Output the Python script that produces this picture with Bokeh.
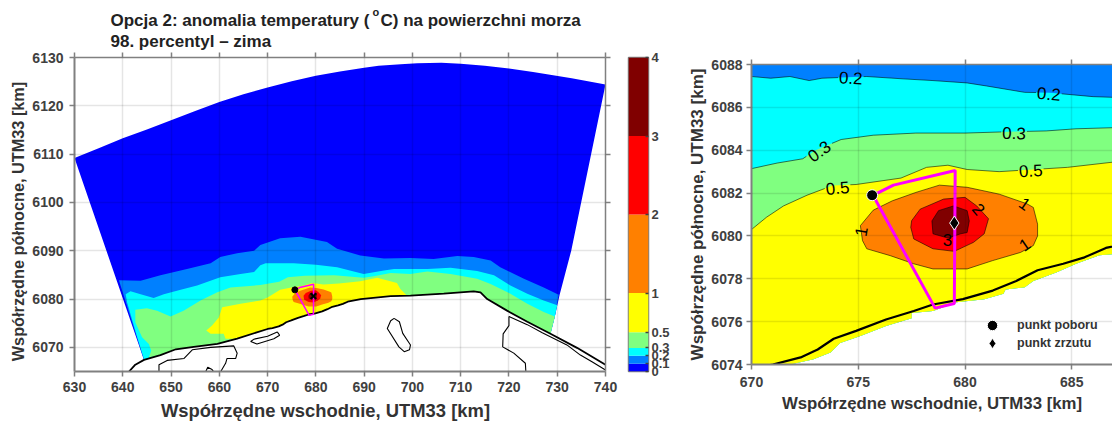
from bokeh.plotting import figure
from bokeh.layouts import row, column
from bokeh.models import ColumnDataSource, FixedTicker, Label, Legend, LegendItem, LinearAxis, Range1d
from bokeh.core.properties import value
from bokeh.embed import file_html
from bokeh.resources import INLINE
import numpy as np

FONT = "Liberation Sans"

# colour scale
levels = [0, 0.1, 0.2, 0.3, 0.5, 1, 2, 3, 4]
level_labels = ["0", "0.1", "0.2", "0.3", "0.5", "1", "2", "3", "4"]
colors = ["#0000ff", "#0080ff", "#00ffff", "#80ff80", "#ffff00", "#ff8000", "#ff0000", "#800000"]

# model domain: offshore arc, then the eastern edge
domain_x = [630, 635, 640, 645, 650, 655, 660, 665, 670, 675, 680, 685, 690, 693, 697.6, 701, 706, 710, 715, 720, 725, 733, 740,
            732.9, 730.5, 729.5, 728.6]
domain_y = [6109.2, 6111.2, 6113.3, 6115.1, 6117, 6118.9, 6120.8, 6122.4, 6123.8, 6125.1, 6126.2, 6127.1, 6127.9, 6128.3,
            6128.6, 6128.8, 6128.9, 6128.7, 6128.3, 6127.7, 6127, 6125.7, 6124.4, 6090, 6080.9, 6076.4, 6072.8]

# coastline
coast_x = [641.3, 642.6, 644.4, 647.8, 651, 654.7, 659.6, 663.7, 670, 671, 672.3, 673.1, 673.85, 674.9, 676.3, 677.6,
           678.5, 679.9, 681.3, 682.4, 683.4, 684.6, 685.6, 686.6, 689.3, 695.5, 699.6, 706.5, 712.7, 714.1, 715.5,
           719.6, 723.8, 728.6, 734.1, 740]
coast_y = [6065, 6066.4, 6067.4, 6068.4, 6069.6, 6070.1, 6070.7, 6071.8, 6073.8, 6074, 6074.33, 6074.7, 6075.2, 6075.57,
           6076.1, 6076.5, 6076.8, 6077.05, 6077.45, 6077.9, 6078.4, 6078.7, 6079, 6079.44, 6080, 6080.6, 6080.7,
           6081.1, 6081.6, 6081.4, 6080, 6077.6, 6075.3, 6072.8, 6069.9, 6066.4]

# inland water outlines
lagoon_a_x = [720, 723.8, 726.9, 732, 734.8, 737.2, 740]
lagoon_a_y = [6076.4, 6074.7, 6073, 6070.5, 6068.4, 6067, 6065.3]
lagoon_b_x = [720, 720, 718.8, 718.7, 721, 723.4, 723.5]
lagoon_b_y = [6076.4, 6074.5, 6072.8, 6070.1, 6068.8, 6066.7, 6065]
lake_a_x = [696.2, 697.3, 698, 699.6, 699.4, 698.3, 697.2, 694.8, 695.5, 696.2]
lake_a_y = [6076, 6075.3, 6072.9, 6070.5, 6069.5, 6069.1, 6070.1, 6073.9, 6075.5, 6076]
lake_b_x = [672, 672.5, 671.3, 667.8, 666.5, 667.2, 670, 672]
lake_b_y = [6073.2, 6072.5, 6071.8, 6070.7, 6071.2, 6071.7, 6072.3, 6073.2]
lake_c_x = [647.5, 647.5, 649.2, 652.7, 654.4, 658.2, 663, 663.7, 663.4, 661.6, 661.3, 660.3]
lake_c_y = [6065, 6066.4, 6067.3, 6067.7, 6069.5, 6070, 6070.3, 6068.8, 6067.7, 6067.7, 6066.7, 6065]
lake_d_x = [657.2, 657.6, 658.5, 658.8]
lake_d_y = [6065, 6065.9, 6065.4, 6065]

# overview contours
wide01_x = [639.2, 643.7, 647.8, 653.3, 658.2, 660.2, 663.7, 667.2, 668.5, 672.6, 676.8, 682.3, 684.4, 689.2, 694.1,
            699.6, 704.4, 709.3, 712.7, 716.2, 718.2, 723.1, 727.2, 730.3, 729.5, 728.6]
wide01_y = [6083.9, 6083.8, 6084.9, 6086.2, 6087.4, 6088.7, 6089.5, 6090, 6091.2, 6092.6, 6092.9, 6091.8, 6090.4, 6089,
            6088.4, 6088.5, 6088.3, 6088.9, 6088.7, 6088, 6086.6, 6084.2, 6082.4, 6080.9, 6076.4, 6072.8]
wide02_x = [644.4, 643, 640.9, 640.6, 641.6, 643.7, 646.4, 648.5, 652, 655.4, 660.2, 664.4, 667.2, 668.5, 669.6, 675.4,
            680, 684.4, 689.9, 694.1, 696.2, 699.6, 703.1, 707.9, 713.4, 716.9, 720.3, 723.8, 727.2, 730, 729.5, 728.6]
wide02_y = [6067.6, 6072.1, 6079.3, 6081, 6081.6, 6081, 6080.2, 6081, 6081.9, 6082.8, 6084.5, 6085.2, 6085.6, 6087,
            6087.4, 6087.4, 6087.1, 6086.6, 6085.2, 6085.9, 6086.2, 6086.2, 6086.2, 6086.5, 6085.8, 6084.9, 6082.8,
            6081.1, 6079.7, 6078.7, 6076.4, 6072.8]
wide03_x = [645.4, 645.9, 645.4, 644, 642.6, 642.6, 645, 647.1, 649.9, 652.6, 656.1, 659.6, 662.3, 668.5, 670, 672.4,
            674.2, 677.7, 683.8, 689.9, 692, 695.5, 699.6, 703.1, 707.9, 713.4, 716.2, 720.3, 723.8, 727.2, 729.5, 728.6]
wide03_y = [6067.9, 6069.3, 6070.7, 6072.1, 6075.2, 6077.8, 6078.1, 6077.6, 6076.4, 6077.6, 6079.7, 6081.4, 6082.4,
            6082.9, 6083.14, 6083.6, 6084.5, 6084.8, 6084.9, 6084.4, 6084.7, 6085.4, 6085.2, 6085.7, 6085.2, 6084.2,
            6083.1, 6081.1, 6079, 6077.3, 6076.4, 6072.8]
wide05_x = [661.3, 660.9, 658.2, 657.3, 658.5, 659.9, 660.6, 664.4, 668.5, 670, 672.6, 674.9, 677, 679.2, 681.6, 684.8,
            689.2, 692.7, 696.8, 697.5, 698.9]
wide05_y = [6071.8, 6072.8, 6072.8, 6073.5, 6074.5, 6076.2, 6078.3, 6079, 6079.7, 6080.3, 6081.9, 6082.4, 6082.7, 6083.3,
            6083, 6083.2, 6083.7, 6084.4, 6083.3, 6082.1, 6080.7]

# detail contours
c02_x = [670, 670.9, 671.8, 672.7, 673.3, 675.4, 677.1, 678.5, 680.1, 681, 682.8, 684, 686, 686.9]
c02_y = [6087.44, 6087.36, 6087.44, 6087.25, 6087.36, 6087.44, 6087.33, 6087.25, 6087.14, 6087, 6086.7, 6086.68, 6086.5, 6086.47]
c03_x = [670, 671.2, 672.4, 673, 674.2, 675.7, 677.7, 680, 681.6, 683.8, 685.2, 686.9]
c03_y = [6083.14, 6083.4, 6083.6, 6084, 6084.5, 6084.7, 6084.8, 6084.8, 6084.85, 6084.9, 6085, 6085.05]
c05_x = [670, 670.7, 671.5, 672.6, 673.8, 674.9, 677, 678.2, 679.2, 680.1, 681.6, 683.2, 684.8, 686.9]
c05_y = [6080.3, 6080.87, 6081.4, 6081.9, 6082.35, 6082.4, 6082.7, 6083.2, 6083.3, 6083.1, 6083, 6083.1, 6083.2, 6083.44]
c1_x = [675.1, 675.7, 676.6, 677.7, 678.8, 680.1, 681.6, 682.9, 683.2, 683.4, 683.4, 683.2, 682.6, 681.3, 680.1, 678.5,
        677.6, 676.5, 675.4, 675.2, 675.1]
c1_y = [6080.48, 6081.2, 6081.64, 6082.03, 6082.37, 6082.27, 6081.95, 6081.5, 6081.33, 6080.55, 6080, 6079.55, 6079.23,
        6078.85, 6078.46, 6078.46, 6078.7, 6079.08, 6079.4, 6079.78, 6080.48]
c2_x = [677.5, 677.9, 679, 680, 680.55, 681.1, 680.9, 680.4, 679.5, 678.5, 677.6, 677.46, 677.5]
c2_y = [6080.71, 6081.25, 6081.72, 6081.8, 6081.4, 6080.8, 6080.1, 6079.7, 6079.28, 6079.4, 6079.86, 6080.4, 6080.71]
c3_x = [678.45, 678.76, 679.46, 680.1, 680.2, 680.1, 679.8, 679.2, 678.5, 678.45]
c3_y = [6080.7, 6081.18, 6081.4, 6081.18, 6080.7, 6080.16, 6080.1, 6079.9, 6080.1, 6080.7]
south_x = [670, 671.8, 672.9, 673.7, 674.15, 675.1, 676.3, 677.5, 677.5, 678.5, 679.6, 680.9, 681.8, 681.9, 682.8, 683.2,
           684.3, 685.2, 686.3, 686.9]
south_y = [6074, 6074, 6074.25, 6074.56, 6075, 6075.33, 6075.8, 6076.16, 6076.4, 6076.5, 6076.9, 6077.05, 6077.3, 6077.5,
           6077.6, 6077.9, 6078.3, 6078.7, 6079.1, 6079.15]

# contour labels
label_text = ["0.2", "0.2", "0.3", "0.3", "0.5", "0.5", "1", "1", "1", "2", "3"]
label_x = [674.65, 683.93, 673.17, 682.3, 674.03, 683.08, 675.14, 682.8, 682.8, 680.64, 679.18]
label_y = [6087.38, 6086.63, 6083.95, 6084.8, 6082.24, 6083.05, 6080.2, 6081.5, 6079.6, 6081.25, 6079.8]
label_deg = [-3, -5, 35, -2, 5, 3, 80, -35, 35, -50, 0]

# discharge pipeline and points
pipe_x = [675.8, 676.65, 679.54, 679.5, 678.6, 675.8]
pipe_y = [6081.95, 6082.37, 6083.05, 6076.85, 6076.63, 6081.7]
intake_x, intake_y = [675.65], [6081.9]
outlet_x, outlet_y = [679.5], [6080.6]

xticks_a = list(range(630, 741, 10))
yticks_a = list(range(6070, 6131, 10))
xticks_b = [670, 675, 680, 685]
yticks_b = list(range(6074, 6089, 2))

INK = "#333333"
AX = "#808080"
HEAD = 50


def style_axis(ax, ticks, size):
    ax.ticker = FixedTicker(ticks=ticks)
    ax.axis_line_color = AX
    ax.axis_line_width = 2
    ax.major_tick_line_color = AX
    ax.major_tick_line_width = 1.5
    ax.major_tick_in = 0
    ax.major_tick_out = 5
    ax.minor_tick_line_color = None
    ax.major_label_standoff = 5
    ax.axis_label_standoff = 2
    ax.major_label_text_font = FONT
    ax.major_label_text_font_style = "bold"
    ax.major_label_text_font_size = size
    ax.major_label_text_color = "#404040"
    ax.axis_label_text_font = FONT
    ax.axis_label_text_font_style = "bold"
    ax.axis_label_text_color = INK


def blank_axis(p, side, ticks):
    a = LinearAxis()
    style_axis(a, ticks, "14px")
    a.major_label_overrides = {t: "" for t in ticks}
    a.major_label_standoff = 0
    a.axis_line_width = 1.5
    p.add_layout(a, side)


def style_grid(p, xt, yt):
    for g, t in ((p.xgrid[0], xt), (p.ygrid[0], yt)):
        g.ticker = FixedTicker(ticks=t)
        g.grid_line_color = "#000000"
        g.grid_line_alpha = 0.1
        g.grid_line_width = 1.5
        g.level = "overlay"


def on_coast(xs, ys):
    """Close a contour, given from west to east, along the sea's coast back to its start."""
    lo = max(xs[0], 644.4)
    hi = xs[-1]
    seg = [(x, y) for x, y in zip(coast_x, coast_y) if lo <= x < hi][::-1]
    return list(xs) + [s[0] for s in seg], list(ys) + [s[1] for s in seg]


def gapped(xs, ys, centres, half=0.6):
    xo, yo = [], []
    xa = np.array(xs)
    ya = np.array(ys)
    cuts = [(c - half, c + half) for c in centres]
    for x, y in zip(xs, ys):
        if not any(a < x < b for a, b in cuts):
            xo.append(x)
            yo.append(y)
    for a, b in cuts:
        xo += [a, b, (a + b) / 2]
        yo += [float(np.interp(a, xa, ya)), float(np.interp(b, xa, ya)), float("nan")]
    order = np.argsort(xo, kind="stable")
    return [xo[i] for i in order], [yo[i] for i in order]


# ---------- heading strip ----------
head = figure(width=620, height=HEAD, output_backend="svg", toolbar_location=None, frame_align=False,
              x_range=Range1d(0, 620), y_range=Range1d(HEAD, 0), x_axis_type=None, y_axis_type=None,
              min_border=0)
head.outline_line_color = None
head.grid.visible = False
head_text = ["Opcja 2: anomalia temperatury  (", "o", "C) na powierzchni morza", "98. percentyl – zima"]
head.text([110, 372, 380, 110], [19.5, 11.5, 19.5, 41], text=head_text, text_font=value(FONT), text_font_style="bold",
          text_font_size=["17px", "11px", "17px", "17px"], text_color="#222222", text_baseline="alphabetic")

# ---------- left panel ----------
p1 = figure(width=620, height=423 - HEAD, output_backend="svg", toolbar_location=None, frame_align=False,
            x_range=Range1d(630, 740), y_range=Range1d(6065, 6130),
            min_border_left=74, min_border_right=15, min_border_top=57 - HEAD, min_border_bottom=52)
p1.outline_line_color = None
style_axis(p1.xaxis[0], xticks_a, "14px")
style_axis(p1.yaxis[0], yticks_a, "14px")
p1.yaxis[0].major_label_standoff = 6
blank_axis(p1, "above", xticks_a)
blank_axis(p1, "right", yticks_a)
style_grid(p1, xticks_a, yticks_a)

sx, sy = on_coast(domain_x, domain_y)
p1.patch(sx, sy, fill_color=colors[0], line_color=None)
for (xs, ys), col in zip(((wide01_x, wide01_y), (wide02_x, wide02_y), (wide03_x, wide03_y), (wide05_x, wide05_y)), colors[1:5]):
    px, py = on_coast(xs, ys)
    p1.patch(px, py, fill_color=col, line_color=None)
for (xs, ys), col in zip(((c1_x, c1_y), (c2_x, c2_y), (c3_x, c3_y)), colors[5:8]):
    p1.patch(xs, ys, fill_color=col, line_color=None)
p1.line(coast_x, coast_y, line_color="black", line_width=1.8)
for xs, ys in ((lagoon_a_x, lagoon_a_y), (lagoon_b_x, lagoon_b_y), (lake_a_x, lake_a_y), (lake_b_x, lake_b_y),
               (lake_c_x, lake_c_y), (lake_d_x, lake_d_y)):
    p1.line(xs, ys, line_color="black", line_width=1.1)
p1.patch(pipe_x, pipe_y, fill_color=None, line_color="#ff00ff", line_width=1.5)
p1.scatter(intake_x, intake_y, marker="circle", size=6, fill_color="black", line_color="black")
p1.scatter(outlet_x, outlet_y, marker="x", size=8, line_color="black", line_width=2)
p1.add_layout(Label(x=251, y=-5, x_units="screen", y_units="screen", text="Współrzędne wschodnie, UTM33 [km]",
                    text_font=FONT, text_font_style="bold", text_font_size="18.4px", text_color=INK,
                    text_align="center", text_baseline="bottom"), "below")
p1.add_layout(Label(x=6, y=150, x_units="screen", y_units="screen", text="Współrzędne północne, UTM33 [km]",
                    text_font=FONT, text_font_style="bold", text_font_size="16.3px", text_color=INK,
                    text_align="center", text_baseline="middle", angle=90, angle_units="deg"), "left")

# ---------- colour bar ----------
cb = figure(width=52, height=423 - HEAD, output_backend="svg", toolbar_location=None, frame_align=False,
            x_range=Range1d(0, 1), y_range=Range1d(0, 4), y_axis_location="right",
            min_border_left=8, min_border_right=22, min_border_top=57 - HEAD, min_border_bottom=52)
cb.outline_line_color = AX
cb.outline_line_width = 1.5
cb.xaxis.visible = False
cb.xgrid.visible = False
cb.ygrid.visible = False
cb.quad(left=0, right=1, bottom=levels[:-1], top=levels[1:], fill_color=colors, line_color=None)
a = cb.yaxis[0]
style_axis(a, levels, "13px")
a.axis_line_color = None
a.major_tick_in = 3
a.major_tick_out = 0
a.major_tick_line_color = "#404040"
a.major_label_standoff = 3
a.major_label_overrides = {lv: t for lv, t in zip(levels, level_labels)}

# ---------- right panel ----------
p2 = figure(width=440, height=423 - HEAD, output_backend="svg", toolbar_location=None, frame_align=False,
            x_range=Range1d(670, 670 + 361 / 21.35), y_range=Range1d(6074, 6088),
            min_border_left=79, min_border_right=0, min_border_top=64 - HEAD, min_border_bottom=59)
p2.outline_line_color = None
style_axis(p2.xaxis[0], xticks_b, "14px")
style_axis(p2.yaxis[0], yticks_b, "14px")
p2.xaxis[0].axis_label = "Współrzędne wschodnie, UTM33 [km]"
p2.yaxis[0].axis_label = "Współrzędne północne, UTM33 [km]"
p2.xaxis[0].axis_label_text_font_size = "16.8px"
p2.yaxis[0].axis_label_text_font_size = "17px"
p2.xaxis[0].major_label_standoff = 7
p2.xaxis[0].axis_label_standoff = 4
p2.yaxis[0].major_label_standoff = 4
p2.yaxis[0].axis_label_standoff = 1
blank_axis(p2, "above", xticks_b)
style_grid(p2, xticks_b, yticks_b)

rx, ry = south_x[::-1], south_y[::-1]
p2.patch([670, 686.9] + rx, [6088, 6088] + ry, fill_color=colors[1], line_color=None)
p2.patch(c02_x + rx, c02_y + ry, fill_color=colors[2], line_color=None)
p2.patch(c03_x + rx, c03_y + ry, fill_color=colors[3], line_color=None)
p2.patch(c05_x + rx, c05_y + ry, fill_color=colors[4], line_color=None)
for (xs, ys), col in zip(((c1_x, c1_y), (c2_x, c2_y), (c3_x, c3_y)), colors[5:8]):
    p2.patch(xs, ys, fill_color=col, line_color="black", line_width=0.7, line_alpha=0.8)
for xs, ys, centres in ((c02_x, c02_y, [674.65, 683.93]), (c03_x, c03_y, [673.17, 682.3]), (c05_x, c05_y, [674.03, 683.08])):
    gx, gy = gapped(xs, ys, centres)
    p2.line(gx, gy, line_color="black", line_width=0.7, line_alpha=0.8)

p2.line(coast_x, coast_y, line_color="black", line_width=2.2)
p2.patch(pipe_x, pipe_y, fill_color=None, line_color="#ff00ff", line_width=3)
r_a = p2.scatter(intake_x, intake_y, marker="circle", size=11, fill_color="black", line_color="white", line_width=1)
r_b = p2.scatter(outlet_x, outlet_y, marker="diamond", size=14, fill_color="black", line_color="white", line_width=1)

lab = ColumnDataSource(dict(x=label_x, y=label_y, t=label_text, a=label_deg))
p2.text("x", "y", text="t", angle="a", angle_units="deg", source=lab, text_font=value(FONT),
        text_font_size="17px", text_color="black", text_align="center", text_baseline="middle")

for name, rend, offset in (("punkt poboru", r_a, 26), ("punkt zrzutu", r_b, 8)):
    p2.add_layout(Legend(items=[LegendItem(label=value(name), renderers=[rend])],
                         location=(228, offset), padding=0, margin=0, spacing=0, glyph_width=26, glyph_height=26,
                         label_standoff=12, background_fill_alpha=0, border_line_color=None,
                         label_text_font=FONT, label_text_font_style="bold", label_text_font_size="12.5px",
                         label_text_color=INK))

open("out.html", "w").write(file_html(column(head, row(p1, cb, p2)), INLINE))
